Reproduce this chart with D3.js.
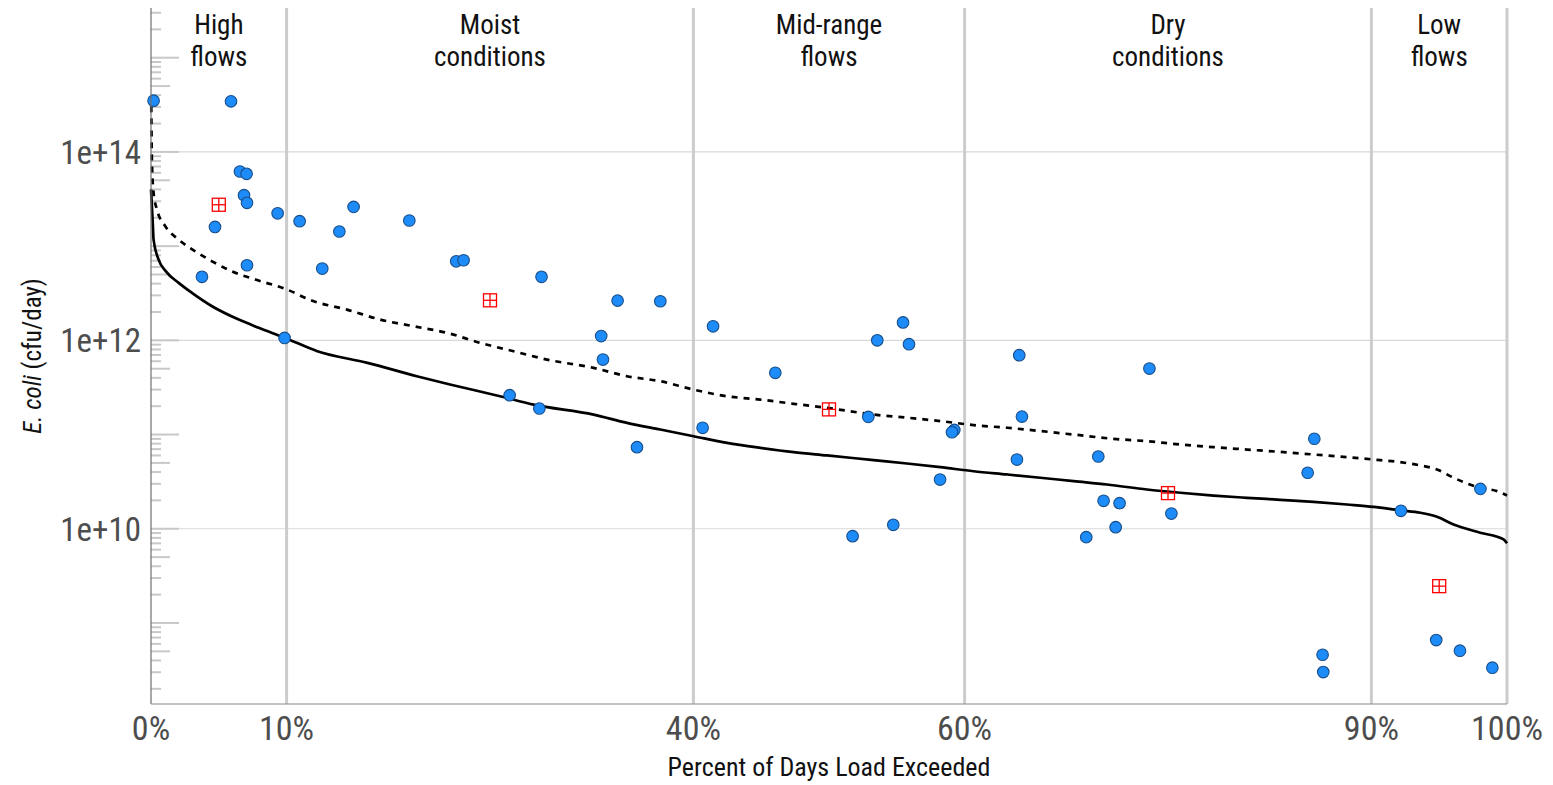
<!DOCTYPE html>
<html>
<head>
<meta charset="utf-8">
<script src="https://cdn.jsdelivr.net/npm/d3@7"></script>
<style>
  body { margin: 0; background: #fff; }
  text { font-family: "Liberation Sans Narrow", "Roboto Condensed", Roboto, sans-serif; }
</style>
</head>
<body>
<div id="chart"></div>
<script>
// flow zones
const zoneBreaks = [0, 10, 40, 60, 90, 100];
const zoneLabels = [["High", "flows"], ["Moist", "conditions"], ["Mid-range", "flows"], ["Dry", "conditions"], ["Low", "flows"]];
const xTicks = [0, 10, 40, 60, 90, 100];
const yLabelTicks = [1e10, 1e12, 1e14];

// observed loads (percent exceeded, cfu/day)
const obsPct = [0.19, 5.9, 6.56, 7.05, 6.86, 7.08, 9.34, 4.72, 7.08, 3.76, 9.85,
  10.96, 12.63, 13.89, 14.94, 19.05, 22.51, 23.05, 28.8, 26.45, 28.64, 34.41, 37.56, 33.2, 33.33, 35.84,
  41.45, 40.68, 46.04, 55.46, 53.56, 55.9, 52.9, 59.24, 59.07, 58.19, 54.74, 51.74,
  64.03, 64.23, 63.86, 69.86, 70.25, 71.43, 71.14, 68.97, 73.63, 75.25, 85.79, 85.3, 86.4, 86.45,
  92.18, 98.04, 94.78, 96.53, 98.92];
const obsLoad = [3.5e14, 3.44e14, 6.2e13, 5.85e13, 3.47e13, 2.88e13, 2.23e13, 1.6e13, 6.27e12, 4.72e12, 1.06e12,
  1.84e13, 5.78e12, 1.43e13, 2.61e13, 1.87e13, 6.9e12, 7.08e12, 4.72e12, 2.62e11, 1.89e11, 2.64e12, 2.6e12, 1.11e12, 6.25e11, 7.35e10,
  1.41e12, 1.18e11, 4.52e11, 1.55e12, 1.0e12, 9.1e11, 1.54e11, 1.12e11, 1.06e11, 3.33e10, 1.1e10, 8.35e9,
  6.95e11, 1.55e11, 5.43e10, 5.85e10, 1.98e10, 1.87e10, 1.04e10, 8.15e9, 5.02e11, 1.45e10, 9.02e10, 3.93e10, 4.6e8, 3.01e8,
  1.55e10, 2.65e10, 6.58e8, 5.08e8, 3.35e8];

// geometric mean per zone
const gmPct = [5, 25, 50, 75, 95];
const gmLoad = [2.75e13, 2.66e12, 1.85e11, 2.39e10, 2.46e9];

// allowable load curve (solid)
const ldcPct = [0, 0.12, 0.19, 0.56, 1.1, 2.04, 3.02, 4.5, 6.47, 7.94, 9.9, 12.27, 15.96, 19.6, 22.05, 25.74, 28.2,
  32.64, 35.1, 37.56, 40.02, 42.48, 44.93, 47.39, 49.85, 53.29, 55.75, 58.21, 60.66, 63.13, 65.58, 68.04, 70.5,
  73.45, 75.91, 78.36, 80.83, 83.28, 85.74, 88.2, 90.16, 92.13, 93.61, 94.84, 96.06, 98.03, 99.75, 100];
const ldcLoad = [4.0e13, 1.9e13, 1.17e13, 7.2e12, 5.4e12, 4.07e12, 3.19e12, 2.3e12, 1.66e12, 1.36e12, 1.06e12, 7.66e11, 5.77e11, 4.16e11, 3.4e11, 2.55e11, 2.08e11,
  1.63e11, 1.33e11, 1.13e11, 9.6e10, 8.17e10, 7.23e10, 6.5e10, 6.0e10, 5.35e10, 4.93e10, 4.51e10, 4.08e10, 3.77e10, 3.48e10, 3.2e10, 2.95e10,
  2.61e10, 2.41e10, 2.25e10, 2.13e10, 2.03e10, 1.93e10, 1.81e10, 1.71e10, 1.57e10, 1.48e10, 1.34e10, 1.11e10, 9.08e9, 7.7e9, 7.0e9];

// single-sample load curve (dashed)
const ssPct = [0.02, 0.07, 0.19, 0.44, 1.05, 2.04, 3.27, 4.5, 5.97, 7.69, 9.9, 11.99, 14.45, 16.91, 19.37, 21.83, 24.28, 26.74, 29.2,
  32.64, 35.1, 37.56, 40.01, 42.48, 44.93, 47.39, 49.85, 53.29, 55.75, 58.21, 60.66, 63.13, 65.58, 68.04, 70.99,
  73.45, 75.91, 78.36, 80.83, 83.53, 85.74, 88.2, 90.16, 91.89, 93.61, 94.84, 96.06, 98.03, 99.26, 100];
const ssLoad = [3.05e14, 7.7e13, 3.67e13, 2.44e13, 1.63e13, 1.17e13, 8.8e12, 6.9e12, 5.4e12, 4.42e12, 3.52e12, 2.6e12, 2.12e12, 1.66e12, 1.41e12, 1.2e12, 9.4e11, 7.66e11, 6.25e11,
  5.1e11, 4.16e11, 3.68e11, 3.0e11, 2.55e11, 2.35e11, 2.12e11, 1.92e11, 1.63e11, 1.51e11, 1.39e11, 1.26e11, 1.18e11, 1.09e11, 1.0e11, 9.0e10,
  8.5e10, 7.84e10, 7.35e10, 6.93e10, 6.5e10, 6.14e10, 5.75e10, 5.43e10, 5.14e10, 4.7e10, 4.26e10, 3.48e10, 2.72e10, 2.51e10, 2.25e10];

const width = 1553, height = 785;
const margin = { top: 8, right: 46, bottom: 81, left: 151 };

const svg = d3.select("#chart").append("svg")
  .attr("width", width)
  .attr("height", height);

const x = d3.scaleLinear().domain([0, 100]).range([margin.left, width - margin.right]);
const y = d3.scaleLog().domain([1.38e8, 3.37e15]).range([height - margin.bottom, margin.top]);

// horizontal grid
svg.append("g").selectAll("line")
  .data(yLabelTicks)
  .enter().append("line")
  .attr("x1", x(0)).attr("x2", x(100))
  .attr("y1", d => y(d)).attr("y2", d => y(d))
  .attr("stroke", "#d9d9d9")
  .attr("stroke-width", 1.1);

// zone separators
svg.append("g").selectAll("line")
  .data(xTicks.slice(1))
  .enter().append("line")
  .attr("x1", d => x(d)).attr("x2", d => x(d))
  .attr("y1", margin.top).attr("y2", height - margin.bottom)
  .attr("stroke", "#cccccc")
  .attr("stroke-width", 3);

// log ticks
const logTicks = [];
for (let e = 8; e <= 15; e++) {
  for (let m = 1; m <= 9; m++) {
    const v = m * Math.pow(10, e);
    if (v >= y.domain()[0] && v <= y.domain()[1]) logTicks.push({ v: v, m: m });
  }
}
svg.append("g").selectAll("line")
  .data(logTicks)
  .enter().append("line")
  .attr("x1", x(0))
  .attr("x2", d => x(0) + (d.m === 1 ? 28 : d.m === 5 ? 19 : 10))
  .attr("y1", d => y(d.v)).attr("y2", d => y(d.v))
  .attr("stroke", "#c8c8c8")
  .attr("stroke-width", 2);

// curves
const line = d3.line()
  .x(d => x(d[0]))
  .y(d => y(d[1]))
  .curve(d3.curveMonotoneX);

svg.append("path")
  .datum(ldcPct.map((p, i) => [p, ldcLoad[i]]))
  .attr("d", line)
  .attr("fill", "none")
  .attr("stroke", "black")
  .attr("stroke-width", 2.7)
  .attr("stroke-linejoin", "round");

svg.append("path")
  .datum(ssPct.map((p, i) => [p, ssLoad[i]]))
  .attr("d", line)
  .attr("fill", "none")
  .attr("stroke", "black")
  .attr("stroke-width", 2.7)
  .attr("stroke-dasharray", "6,6");

// observed points
svg.append("g").selectAll("circle")
  .data(obsPct.map((p, i) => [p, obsLoad[i]]))
  .enter().append("circle")
  .attr("cx", d => x(d[0]))
  .attr("cy", d => y(d[1]))
  .attr("r", 5.8)
  .attr("fill", "#1E8CF8")
  .attr("stroke", "#174f8c")
  .attr("stroke-width", 1.1);

// geometric means
const gm = svg.append("g").selectAll("g")
  .data(gmPct.map((p, i) => [p, gmLoad[i]]))
  .enter().append("g")
  .attr("transform", d => `translate(${x(d[0])},${y(d[1])})`);
gm.append("rect")
  .attr("x", -6.5).attr("y", -6.5).attr("width", 13).attr("height", 13)
  .attr("fill", "none").attr("stroke", "#ff0000").attr("stroke-width", 1.3);
gm.append("line").attr("x1", -6.5).attr("x2", 6.5).attr("y1", 0).attr("y2", 0)
  .attr("stroke", "#ff0000").attr("stroke-width", 1.3);
gm.append("line").attr("x1", 0).attr("x2", 0).attr("y1", -6.5).attr("y2", 6.5)
  .attr("stroke", "#ff0000").attr("stroke-width", 1.3);

// axis lines
svg.append("line")
  .attr("x1", x(0)).attr("x2", x(0))
  .attr("y1", margin.top).attr("y2", height - margin.bottom)
  .attr("stroke", "#6e6e6e").attr("stroke-width", 1.2);
svg.append("line")
  .attr("x1", x(0)).attr("x2", x(100))
  .attr("y1", height - margin.bottom).attr("y2", height - margin.bottom)
  .attr("stroke", "#8a8a8a").attr("stroke-width", 1.2);

// tick labels
svg.append("g").selectAll("text")
  .data(xTicks)
  .enter().append("text")
  .attr("x", d => x(d))
  .attr("y", 740)
  .attr("text-anchor", "middle")
  .attr("font-size", 34)
  .attr("fill", "#4d4d4d")
  .text(d => d + "%");

svg.append("g").selectAll("text")
  .data(yLabelTicks)
  .enter().append("text")
  .attr("x", 141)
  .attr("y", d => y(d))
  .attr("dy", "0.36em")
  .attr("text-anchor", "end")
  .attr("font-size", 33)
  .attr("fill", "#4d4d4d")
  .text(d => "1e+" + Math.round(Math.log10(d)));

// zone labels
const zl = svg.append("g").selectAll("text")
  .data(zoneLabels)
  .enter().append("text")
  .attr("x", (d, i) => x((zoneBreaks[i] + zoneBreaks[i + 1]) / 2))
  .attr("text-anchor", "middle")
  .attr("font-size", 27)
  .attr("fill", "#111");
zl.append("tspan").attr("x", (d, i) => x((zoneBreaks[i] + zoneBreaks[i + 1]) / 2)).attr("y", 34).text(d => d[0]);
zl.append("tspan").attr("x", (d, i) => x((zoneBreaks[i] + zoneBreaks[i + 1]) / 2)).attr("y", 66).text(d => d[1]);

// axis titles
svg.append("text")
  .attr("x", (x(0) + x(100)) / 2)
  .attr("y", 776)
  .attr("text-anchor", "middle")
  .attr("font-size", 26)
  .attr("fill", "#111")
  .text("Percent of Days Load Exceeded");

const yt = svg.append("text")
  .attr("transform", `translate(41,${(margin.top + height - margin.bottom) / 2}) rotate(-90)`)
  .attr("text-anchor", "middle")
  .attr("font-size", 25)
  .attr("fill", "#111");
yt.append("tspan").attr("font-style", "italic").text("E. coli");
yt.append("tspan").text(" (cfu/day)");
</script>
</body>
</html>
